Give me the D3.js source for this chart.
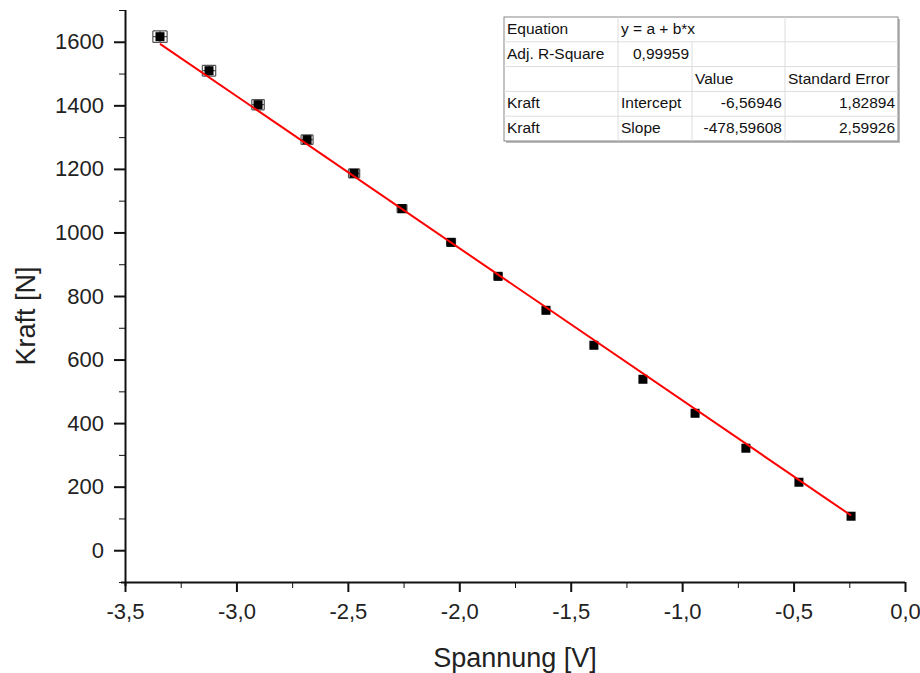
<!DOCTYPE html>
<html>
<head>
<meta charset="utf-8">
<style>
  body { margin: 0; background: #fff; }
  svg text { font-family: "Liberation Sans", Arial, sans-serif; }
</style>
</head>
<body>
<script src="https://d3js.org/d3.v7.min.js"></script>
<svg id="chart" width="920" height="673"></svg>
<script>
// measured points (Spannung in V, Kraft in N)
var spannung = [-3.343, -3.123, -2.903, -2.683, -2.472, -2.257, -2.037, -1.826, -1.611, -1.396, -1.176, -0.942, -0.714, -0.476, -0.242];
var kraft    = [1616, 1509, 1402, 1292, 1186, 1075, 969, 862, 755, 645, 538, 431, 321, 214, 107];
// error estimates
var spannungErr = [0.032, 0.030, 0.028, 0.027, 0.025, 0.022, 0.020, 0.018, 0.016, 0.015, 0.014, 0.013, 0.012, 0.012, 0.012];
var kraftErr    = [18, 17, 16, 15, 14, 13, 12, 11, 10, 9, 8, 8, 7, 7, 7];

var xTicks = [-3.5, -3.0, -2.5, -2.0, -1.5, -1.0, -0.5, 0.0];
var yTicks = [0, 200, 400, 600, 800, 1000, 1200, 1400, 1600];

// fit results table
var tableRows = [
  ["Equation", "y = a + b*x", "", ""],
  ["Adj. R-Square", "0,99959", "", ""],
  ["", "", "Value", "Standard Error"],
  ["Kraft", "Intercept", "-6,56946", "1,82894"],
  ["Kraft", "Slope", "-478,59608", "2,59926"]
];
var intercept = -6.56946, slope = -478.59608;

var svg = d3.select("#chart");

var x = d3.scaleLinear().domain([-3.5, 0]).range([125, 905]);
var y = d3.scaleLinear().domain([-100, 1700]).range([582, 10]);

var fmt = function(d) { return d3.format(".1f")(d).replace(".", ",").replace("−", "-"); };

// minor ticks x
svg.append("g")
  .attr("transform", "translate(0,582)")
  .call(d3.axisBottom(x).tickValues(d3.range(-3.25, 0, 0.5)).tickSize(6).tickFormat(""))
  .call(function(g) { g.select(".domain").remove(); });
// major x
var gx = svg.append("g")
  .attr("transform", "translate(0,582)")
  .call(d3.axisBottom(x).tickValues(xTicks).tickSize(10).tickSizeOuter(0).tickPadding(11).tickFormat(fmt));
gx.select(".domain").attr("stroke-width", 2).attr("d", "M121,0.5H905");
gx.selectAll(".tick line").attr("stroke-width", 2);
gx.selectAll(".tick text").attr("font-size", 22).attr("fill", "#222");

// minor y
svg.append("g")
  .attr("transform", "translate(125,0)")
  .call(d3.axisLeft(y).tickValues([-100, 100, 300, 500, 700, 900, 1100, 1300, 1500, 1700]).tickSize(6).tickFormat(""))
  .call(function(g) { g.select(".domain").remove(); });
var gy = svg.append("g")
  .attr("transform", "translate(125,0)")
  .call(d3.axisLeft(y).tickValues(yTicks).tickSize(11).tickSizeOuter(0).tickPadding(10).tickFormat(d3.format("d")));
gy.select(".domain").attr("stroke-width", 2).attr("d", "M0.5,10V586");
gy.selectAll(".tick line").attr("stroke-width", 2);
gy.selectAll(".tick text").attr("font-size", 22).attr("fill", "#222");
svg.selectAll(".tick line").attr("stroke", "#111");
svg.selectAll(".domain").attr("stroke", "#111");

// axis titles
svg.append("text")
  .attr("x", 515).attr("y", 667)
  .attr("text-anchor", "middle")
  .attr("font-size", 27).attr("fill", "#222")
  .text("Spannung [V]");
svg.append("text")
  .attr("transform", "translate(35,316) rotate(-90)")
  .attr("text-anchor", "middle")
  .attr("font-size", 27).attr("fill", "#222")
  .text("Kraft [N]");

// error bars
var pts = spannung.map(function(v, i) {
  return { x: v, y: kraft[i], ex: spannungErr[i], ey: kraftErr[i] };
});
var eb = svg.append("g").attr("stroke", "#555").attr("stroke-width", 1.2).attr("fill", "none");
pts.forEach(function(p) {
  var cx = x(p.x), cy = y(p.y);
  var x0 = x(p.x - p.ex), x1 = x(p.x + p.ex);
  var y0 = y(p.y + p.ey), y1 = y(p.y - p.ey);
  eb.append("path").attr("d",
    "M" + x0 + "," + cy + "H" + x1 +
    "M" + x0 + "," + y0 + "V" + y1 +
    "M" + x1 + "," + y0 + "V" + y1 +
    "M" + cx + "," + y0 + "V" + y1 +
    "M" + x0 + "," + y0 + "H" + x1 +
    "M" + x0 + "," + y1 + "H" + x1);
});

// markers
svg.append("g").selectAll("rect")
  .data(pts).enter().append("rect")
  .attr("x", function(d) { return x(d.x) - 4.5; })
  .attr("y", function(d) { return y(d.y) - 4.5; })
  .attr("width", 9).attr("height", 9)
  .attr("fill", "#000");

// linear fit
var xMin = d3.min(spannung), xMax = d3.max(spannung);
svg.append("line")
  .attr("x1", x(xMin)).attr("y1", y(intercept + slope * xMin))
  .attr("x2", x(xMax)).attr("y2", y(intercept + slope * xMax))
  .attr("stroke", "#f00").attr("stroke-width", 2);

// results table
var colX = [504, 618, 692, 785, 898];
var rowH = 24.8, tTop = 17;
var tbl = svg.append("g");
tbl.append("rect").attr("x", colX[0] + 2).attr("y", tTop + 2)
  .attr("width", colX[4] - colX[0]).attr("height", rowH * 5)
  .attr("fill", "#bbb");
tbl.append("rect").attr("x", colX[0]).attr("y", tTop)
  .attr("width", colX[4] - colX[0]).attr("height", rowH * 5)
  .attr("fill", "#fff").attr("stroke", "#888").attr("stroke-width", 1);
// horizontal grid
for (var r = 1; r < 5; r++) {
  tbl.append("line").attr("x1", colX[0]).attr("x2", colX[4])
    .attr("y1", tTop + r * rowH).attr("y2", tTop + r * rowH)
    .attr("stroke", "#ddd");
}
// vertical grid (row 0: col 1 spans two cells)
[1, 2, 3].forEach(function(c) {
  var yStart = (c === 2) ? tTop + rowH : tTop;
  tbl.append("line").attr("x1", colX[c]).attr("x2", colX[c])
    .attr("y1", yStart).attr("y2", tTop + 5 * rowH)
    .attr("stroke", "#ddd");
});
tableRows.forEach(function(row, r) {
  row.forEach(function(txt, c) {
    if (!txt) return;
    var right = (r >= 3 && c >= 2) || (r === 1 && c === 1);
    tbl.append("text")
      .attr("x", right ? colX[c + 1] - 3 : colX[c] + 3)
      .attr("y", tTop + r * rowH + 17)
      .attr("text-anchor", right ? "end" : "start")
      .attr("font-size", 15.5).attr("fill", "#111")
      .text(txt);
  });
});
</script>
</body>
</html>
